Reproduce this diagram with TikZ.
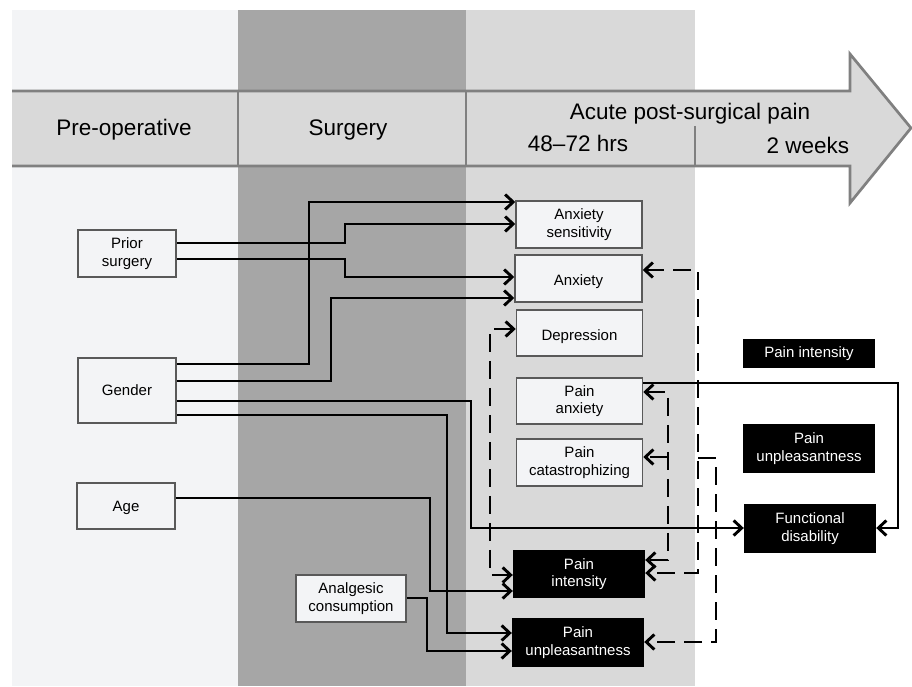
\documentclass[tikz,border=0pt]{standalone}
\usepackage{fontspec}
\setmainfont{Liberation Sans}
\usetikzlibrary{arrows.meta}
\definecolor{preop}{HTML}{F3F4F6}
\definecolor{surg}{HTML}{A6A6A6}
\definecolor{acute}{HTML}{D9D9D9}
\definecolor{bannerline}{HTML}{808080}
\definecolor{boxline}{HTML}{595959}
\newcommand\boxfont{\fontsize{15}{17.7}\selectfont}
\newcommand\hdrfont{\fontsize{22.5}{27}\selectfont}
\begin{document}
\begin{tikzpicture}[x=1pt,y=-1pt,
  wbox/.style={draw=boxline, fill=preop, line width=1.5pt, inner sep=0pt, align=center, font=\boxfont, text=black},
  bbox/.style={fill=black, text=white, inner sep=0pt, align=center, font=\boxfont},
  hdr/.style={font=\hdrfont, text=black, anchor=base, inner sep=0pt},
  conn/.style={line width=2.9pt, -{Straight Barb[length=8pt,width=15pt]}},
  dconn/.style={line width=2.9pt, dash pattern=on 18pt off 9pt},
  tipb/.style={{Straight Barb[length=8pt,width=15pt]}-{Straight Barb[length=8pt,width=15pt]}},
  tipe/.style={-{Straight Barb[length=8pt,width=15pt]}}
]
\useasboundingbox (0,0) rectangle (912,687);
\fill[white] (0,0) rectangle (912,687);
% columns
\fill[preop] (12,10) rectangle (238,686);
\fill[surg] (238,10) rectangle (466,686);
\fill[acute] (466,10) rectangle (695,686);
% banner
\fill[acute] (12,91) -- (850,91) -- (850,54) -- (911,128) -- (850,203) -- (850,166) -- (12,166) -- cycle;
\draw[bannerline, line width=2.7pt, line join=miter] (12,91) -- (850,91) -- (850,54) -- (911,128) -- (850,203) -- (850,166) -- (12,166);
\draw[bannerline, line width=2.3pt] (238,91) -- (238,166);
\draw[bannerline, line width=2.3pt] (466,91) -- (466,166);
\draw[bannerline, line width=2.3pt] (695,126) -- (695,166);
\node[hdr] (hpre) at (124,136) {Pre-operative};
\node[hdr] (hsur) at (348,136) {Surgery};
\node[hdr] (hacu) at (690,120) {Acute post-surgical pain};
\node[hdr] (h48) at (578,152) {48–72 hrs};
\node[hdr] (h2w) at (808,154) {2 weeks};
% boxes
\node[wbox, minimum width=98pt, minimum height=47pt] (PS) at (127,253.5) {Prior\\surgery};
\node[wbox, minimum width=98pt, minimum height=65pt] (GE) at (127,390.5) {Gender};
\node[wbox, minimum width=98pt, minimum height=46pt] (AG) at (126,506) {\mbox{}\\[-3pt]Age};
\node[wbox, minimum width=110pt, minimum height=47pt] (AC) at (351,598.5) {Analgesic\\consumption};
\node[wbox, minimum width=126pt, minimum height=47pt] (AS) at (579,224.5) {Anxiety\\sensitivity};
\node[wbox, minimum width=127pt, minimum height=47pt] (AX) at (578.5,278.5) {\mbox{}\\Anxiety};
\node[wbox, minimum width=126pt, minimum height=46pt] (DP) at (579.5,333) {\mbox{}\\Depression};
\node[wbox, minimum width=126pt, minimum height=46pt] (PA) at (579.5,401) {Pain\\anxiety};
\node[wbox, minimum width=126pt, minimum height=47pt] (PC) at (579.5,462.5) {Pain\\catastrophizing};
\node[bbox, minimum width=132pt, minimum height=48pt] (PI) at (579,574) {Pain\\intensity};
\node[bbox, minimum width=132pt, minimum height=49pt] (PU) at (578,642.5) {Pain\\unpleasantness};
\node[bbox, minimum width=132pt, minimum height=29pt] (RPI) at (809,353.5) {Pain intensity};
\node[bbox, minimum width=132pt, minimum height=49pt] (RPU) at (809,448.5) {Pain\\unpleasantness};
\node[bbox, minimum width=132pt, minimum height=49pt] (FD) at (810,528.5) {Functional\\disability};
% solid connectors
\draw[conn] (GE.east |- 0,364) -| (309,202) -- (AS.west |- 0,202);
\draw[conn] (PS.east |- 0,243) -| (345,224) -- (AS.west |- 0,224);
\draw[conn] (PS.east |- 0,259) -| (345,277) -- (AX.west |- 0,277);
\draw[conn] (GE.east |- 0,381) -| (331,298) -- (AX.west |- 0,298);
\draw[conn] (GE.east |- 0,401) -| (471,528) -- (FD.west |- 0,528);
\draw[conn] (GE.east |- 0,415) -| (447,633) -- (PU.west |- 0,633);
\draw[conn] (AG.east |- 0,498) -| (430,591) -- (PI.west |- 0,591);
\draw[conn] (AC.east |- 0,598) -| (427,651) -- (PU.west |- 0,651);
\draw[conn] (PA.east |- 0,383) -| (898,528) -- (FD.east |- 0,528);
% dashed connectors
\draw[dconn, tipb] (DP.west |- 0,329) -| (490,575) -- (PI.west |- 0,575);
\draw[dconn, tipb] (PA.east |- 0,392) -| (668,560) -- (PI.east |- 0,560);
\draw[dconn, tipe] (668,457) -- (PC.east |- 0,457);
\draw[dconn, tipb] (AX.east |- 0,270) -| (698,573) -- (PI.east |- 0,573);
\draw[dconn, tipe] (698,458) -| (716,642) -- (PU.east |- 0,642);
\end{tikzpicture}
\end{document}
